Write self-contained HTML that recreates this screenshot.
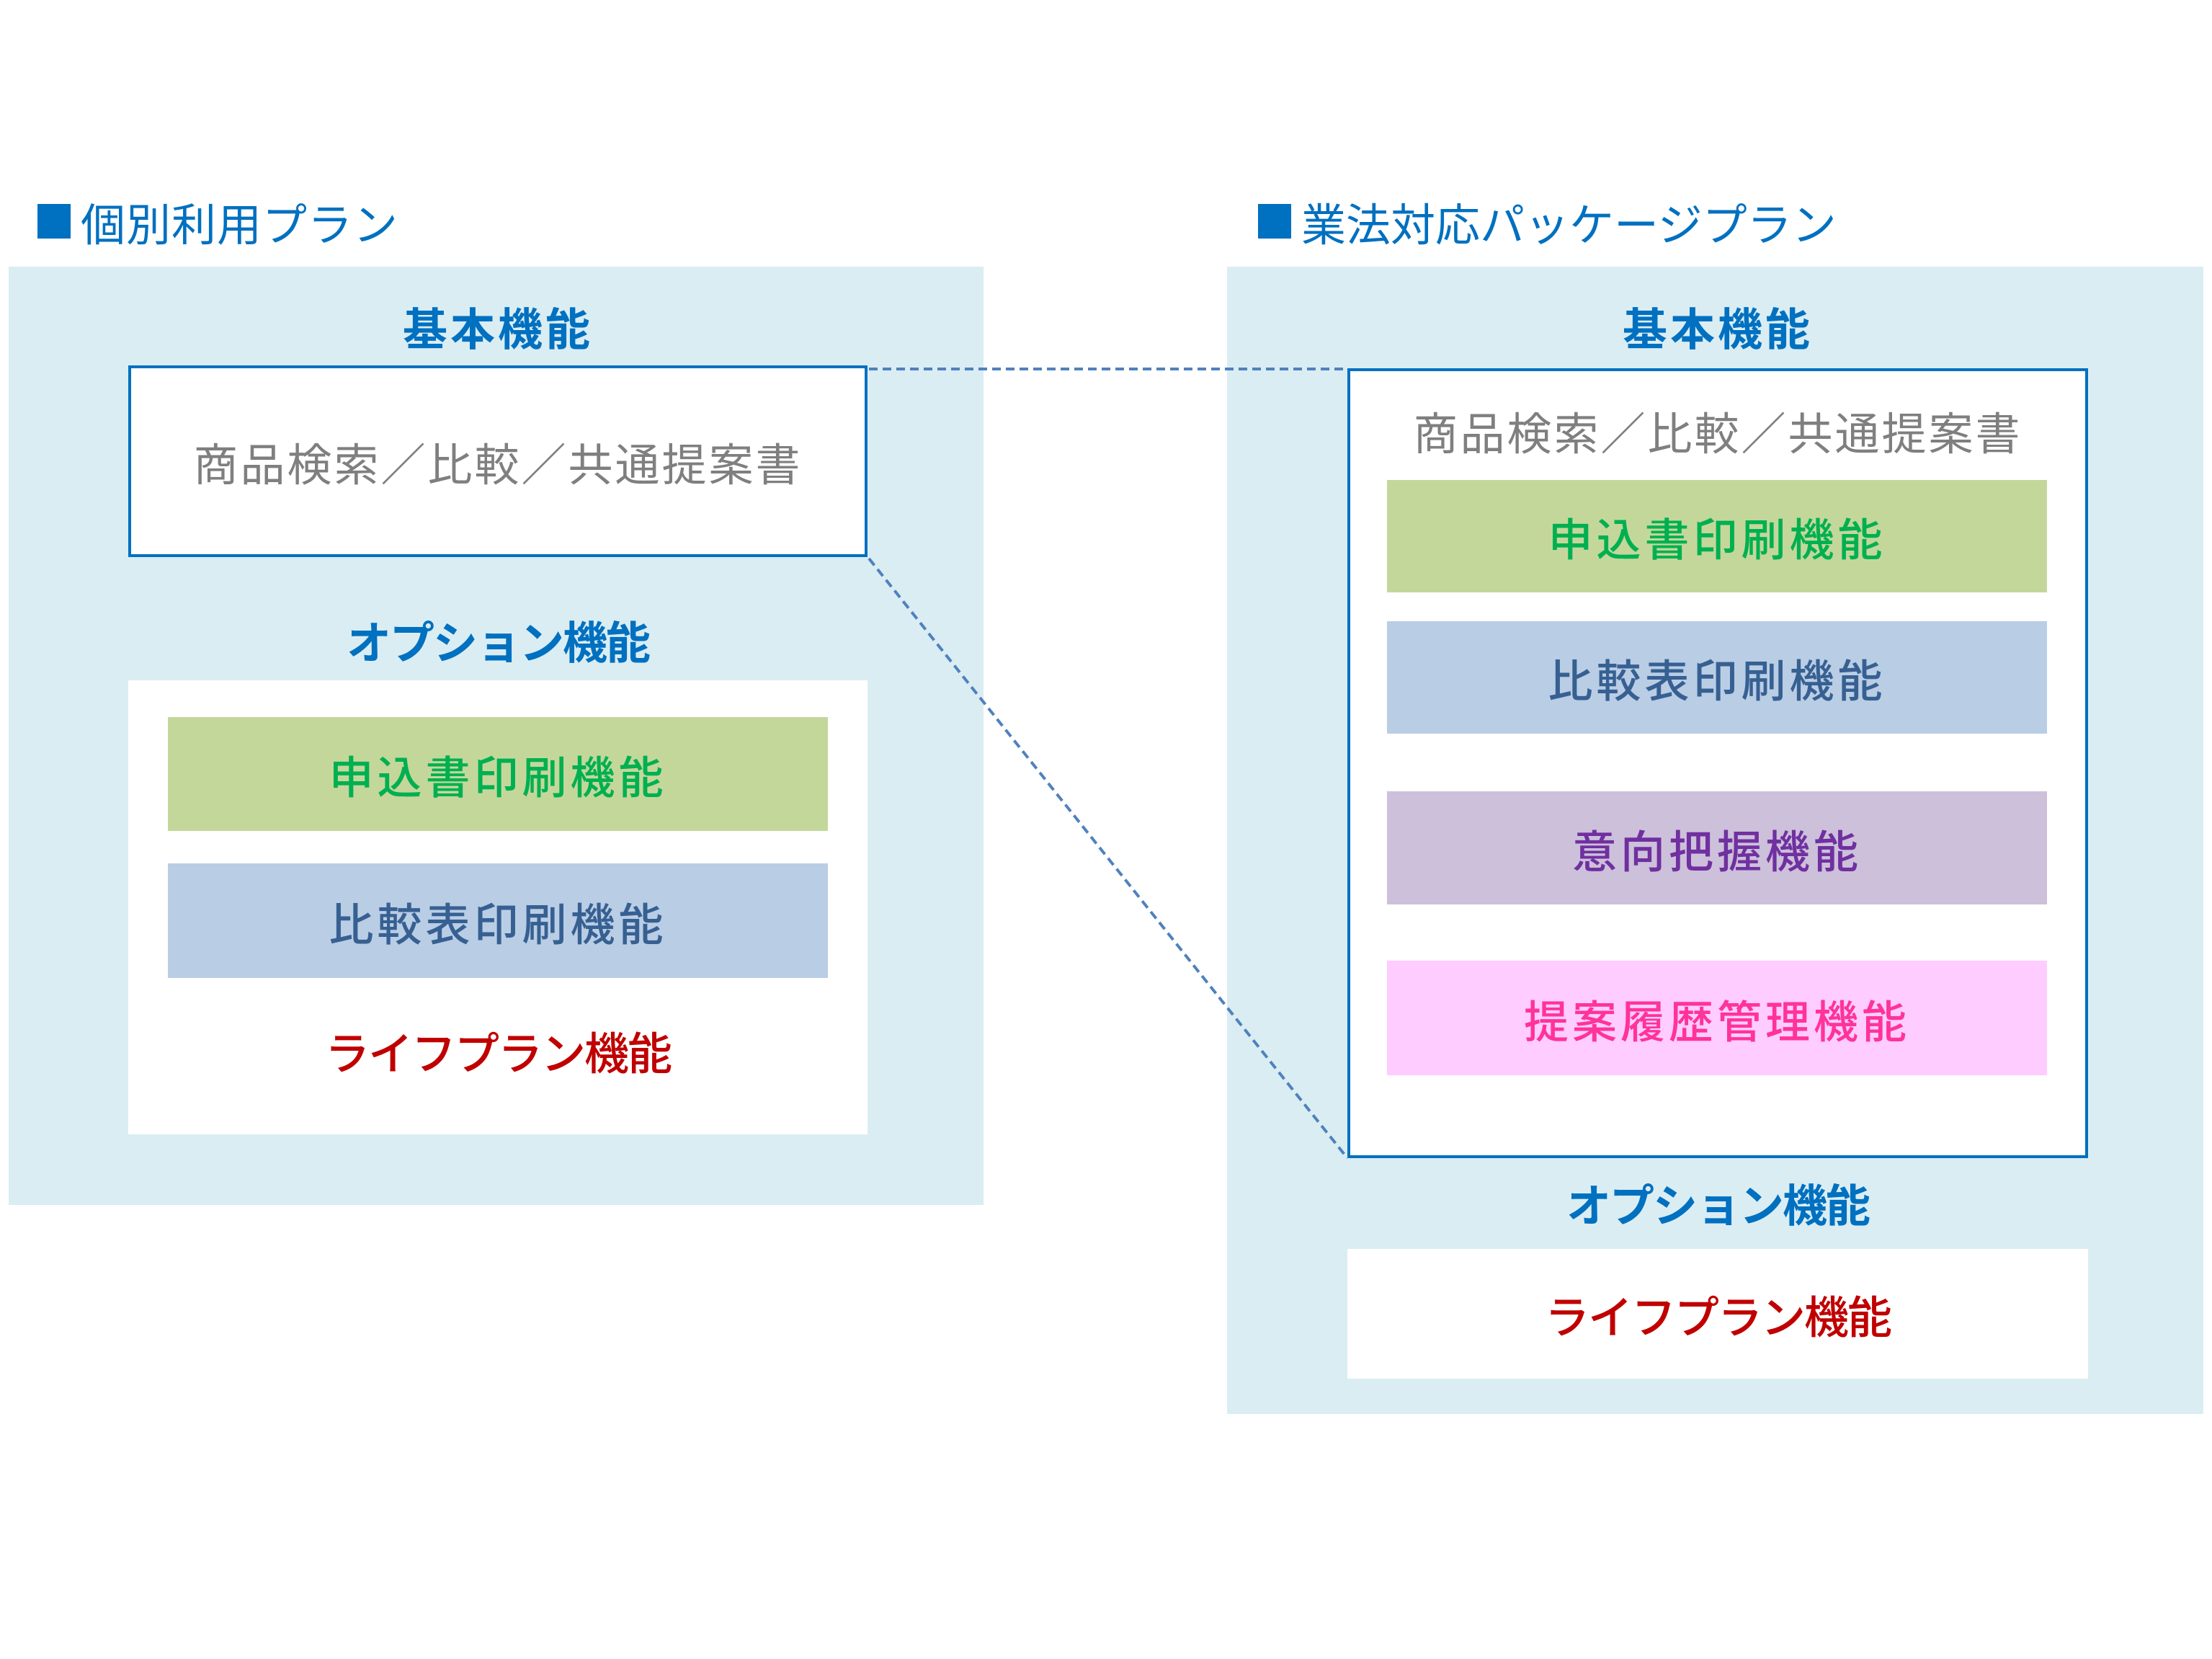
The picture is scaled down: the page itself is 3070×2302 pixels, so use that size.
<!DOCTYPE html>
<html><head><meta charset="utf-8"><style>
body{margin:0;width:3070px;height:2302px;background:#fff;position:relative;overflow:hidden;font-family:"Liberation Sans","Noto Sans CJK JP",sans-serif}
.a{position:absolute;display:flex;align-items:center;justify-content:center;box-sizing:border-box;white-space:nowrap}
.t{font-size:62px;letter-spacing:5px}
.h{color:#0070C0;font-weight:bold;font-size:62px;letter-spacing:4px}
.k{letter-spacing:-2px}
</style></head><body>
<div class="a" style="left:52px;top:283px;width:46px;height:48px;background:#0070C0"></div>
<div class="a" style="left:112px;top:267px;height:80px;justify-content:flex-start;color:#0070C0;font-size:62px;letter-spacing:1px">個別利用プラン</div>
<div class="a" style="left:1746px;top:283px;width:46px;height:48px;background:#0070C0"></div>
<div class="a" style="left:1806px;top:267px;height:80px;justify-content:flex-start;color:#0070C0;font-size:62px;letter-spacing:0px">業法対応パッケージプラン</div>

<div class="a" style="left:12px;top:370px;width:1353px;height:1302px;background:#DAEDF3"></div>
<div class="a h" style="left:178px;top:412px;width:1026px;height:80px">基本機能</div>
<div class="a t" style="left:178px;top:507px;width:1026px;height:266px;background:#fff;border:4px solid #0070C0;color:#7F7F7F;letter-spacing:3px">商品検索／比較／共通提案書</div>
<div class="a h k" style="left:178px;top:847px;width:1026px;height:80px">オプション機能</div>
<div class="a" style="left:178px;top:944px;width:1026px;height:630px;background:#fff"></div>
<div class="a t" style="left:233px;top:995px;width:916px;height:158px;background:#C4D79B;color:#00B050;font-weight:500">申込書印刷機能</div>
<div class="a t" style="left:233px;top:1198px;width:916px;height:159px;background:#B9CDE5;color:#376092;font-weight:500">比較表印刷機能</div>
<div class="a t k" style="left:233px;top:1417px;width:916px;height:80px;color:#C00000;font-weight:500">ライフプラン機能</div>

<div class="a" style="left:1703px;top:370px;width:1355px;height:1592px;background:#DAEDF3"></div>
<div class="a h" style="left:1870px;top:412px;width:1028px;height:80px">基本機能</div>
<div class="a" style="left:1870px;top:511px;width:1028px;height:1096px;background:#fff;border:4px solid #0070C0"></div>
<div class="a t" style="left:1870px;top:557px;width:1028px;height:80px;color:#7F7F7F;letter-spacing:3px">商品検索／比較／共通提案書</div>
<div class="a t" style="left:1925px;top:666px;width:916px;height:156px;background:#C4D79B;color:#00B050;font-weight:500">申込書印刷機能</div>
<div class="a t" style="left:1925px;top:862px;width:916px;height:156px;background:#B9CDE5;color:#376092;font-weight:500">比較表印刷機能</div>
<div class="a t" style="left:1925px;top:1098px;width:916px;height:157px;background:#CCC0DA;color:#7030A0;font-weight:500">意向把握機能</div>
<div class="a t" style="left:1925px;top:1333px;width:916px;height:159px;background:#FFCCFF;color:#FF3399;font-weight:500">提案履歴管理機能</div>
<div class="a h k" style="left:1870px;top:1628px;width:1028px;height:80px">オプション機能</div>
<div class="a t k" style="left:1870px;top:1733px;width:1028px;height:180px;background:#fff;color:#C00000;font-weight:500">ライフプラン機能</div>

<svg style="position:absolute;left:0;top:0" width="3070" height="2302">
<line x1="1206" y1="512" x2="1870" y2="512" stroke="#4F81BD" stroke-width="4" stroke-dasharray="12,7"/>
<line x1="1206" y1="775" x2="1870" y2="1607" stroke="#4F81BD" stroke-width="4" stroke-dasharray="12,7"/>
</svg>
</body></html>
